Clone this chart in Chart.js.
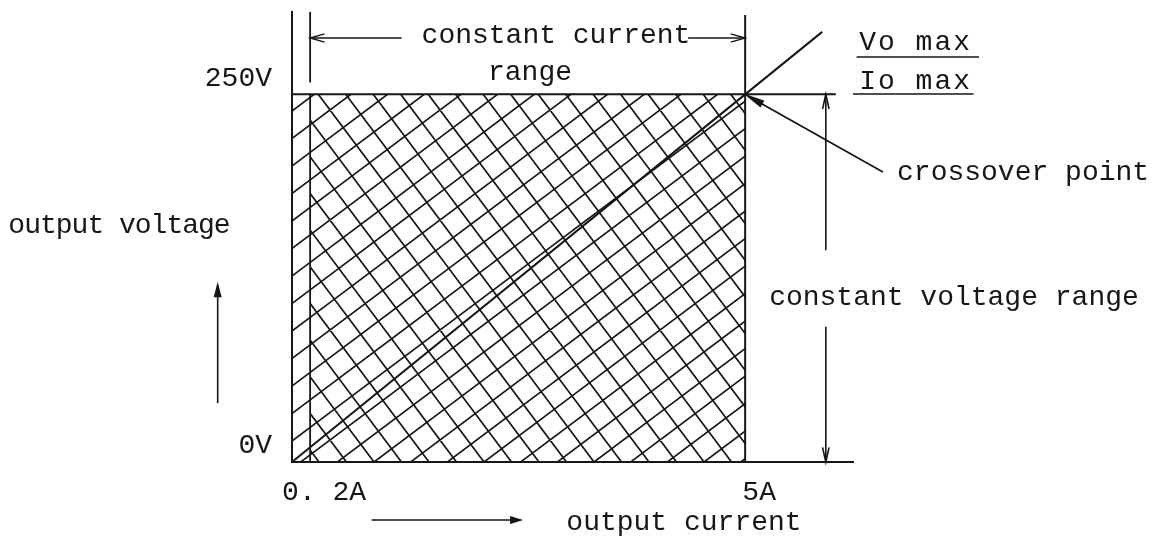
<!DOCTYPE html>
<html>
<head>
<meta charset="utf-8">
<script src="https://cdn.jsdelivr.net/npm/chart.js@4.4.1/dist/chart.umd.min.js"></script>
<style>
  html, body { margin: 0; padding: 0; background: #fff; }
</style>
</head>
<body>
<canvas id="chart" width="1161" height="541"></canvas>
<script>
// tick marks on the two axes
const currentTicks = [0.2, 5];
const currentLabels = ['0. 2A', '5A'];
const voltageTicks = [0, 250];
const voltageLabels = ['0V', '250V'];

// hatched operating area (A / V)
const stripCurrent = [0, 0.2];
const rangeCurrent = [0.2, 5];
const rangeVoltage = [250, 250];

// load line through the crossover point
const loadCurrent = [0, 5, 5.85];
const loadVoltage = [0, 250, 292.5];

// 250V limit line
const limitCurrent = [0, 6.0];
const limitVoltage = [250, 250];

// 0.2A and 5A verticals
const minLineCurrent = [0.2, 0.2, 0.2, 0.2, 0.2];
const minLineVoltage = [0, 250, null, 258, 306];
const maxLineCurrent = [5, 5];
const maxLineVoltage = [0, 304];

// dimension arrows
const ccLeftCurrent = [1.21, 0.2];
const ccRightCurrent = [4.37, 5];
const ccVoltage = [288.3, 288.3];
const cvCurrent = [5.89, 5.89];
const cvUpVoltage = [144, 250];
const cvDownVoltage = [92, 0];
const crossCurrent = [6.52, 5.03];
const crossVoltage = [197.2, 248.9];
const voltArrowCurrent = [-0.82, -0.82];
const voltArrowVoltage = [40, 120.4];
const currArrowCurrent = [0.88, 2.52];
const currArrowVoltage = [-39.4, -39.4];

// underlines for Vo max / Io max
const voUnderCurrent = [6.23, 7.58];
const voUnderVoltage = [275.4, 275.4];
const ioUnderCurrent = [6.19, 7.52];
const ioUnderVoltage = [250.2, 250.2];

const ink = '#161616';
const fontFamily = '"Liberation Mono", "DejaVu Sans Mono", monospace';

const zip = (xs, ys) => xs.map((x, i) => ({x: x, y: ys[i]}));

function hatch(both) {
  const d = 22, n = 5 * d;
  const c = document.createElement('canvas');
  c.width = n; c.height = n;
  const g = c.getContext('2d');
  g.strokeStyle = ink;
  g.lineWidth = 1.7;
  g.beginPath();
  for (let k = -2; k <= 9; k++) {
    const px = 0.6 * k * d, py = 0.8 * k * d;
    g.moveTo(px - 0.8 * 300, py + 0.6 * 300);
    g.lineTo(px + 0.8 * 300, py - 0.6 * 300);
  }
  if (both) {
    for (let k = -5; k <= 6; k++) {
      const px = 0.8 * k * d, py = -0.6 * k * d;
      g.moveTo(px - 0.6 * 300, py - 0.8 * 300);
      g.lineTo(px + 0.6 * 300, py + 0.8 * 300);
    }
  }
  g.stroke();
  return g.createPattern(c, 'repeat');
}

function line(points, extra) {
  return Object.assign({
    data: points, showLine: true, pointRadius: 0,
    borderColor: ink, borderWidth: 1.8, fill: false, clip: false
  }, extra || {});
}

// text notes, anchored in data units
const notes = [
  {text: 'constant current', x: 2.913, y: 284.9, align: 'center'},
  {text: 'range', x: 2.626, y: 259.8, align: 'center'},
  {text: 'Vo max', x: 7.503, y: 280.2, align: 'right', spacing: 2},
  {text: 'Io max', x: 7.503, y: 253.6, align: 'right', spacing: 2},
  {text: 'crossover point', x: 6.676, y: 191.8, align: 'left'},
  {text: 'constant voltage range', x: 7.304, y: 106.8, align: 'center'},
  {text: 'output voltage', x: -1.909, y: 155.7, align: 'center', spacing: -1},
  {text: 'output current', x: 4.325, y: -46.2, align: 'center'}
];

const notesPlugin = {
  id: 'notes',
  afterDraw(chart) {
    const ctx = chart.ctx, sx = chart.scales.x, sy = chart.scales.y;
    ctx.save();
    ctx.fillStyle = ink;
    ctx.font = '28px ' + fontFamily;
    ctx.textBaseline = 'alphabetic';
    notes.forEach(n => {
      ctx.textAlign = n.align;
      ctx.letterSpacing = (n.spacing || 0) + 'px';
      ctx.fillText(n.text, sx.getPixelForValue(n.x), sy.getPixelForValue(n.y));
    });
    ctx.restore();
  }
};

const arrowPlugin = {
  id: 'arrows',
  afterDatasetsDraw(chart) {
    const ctx = chart.ctx;
    chart.data.datasets.forEach((ds, i) => {
      if (!ds.head) return;
      const pts = chart.getDatasetMeta(i).data;
      const tip = pts[pts.length - 1], from = pts[pts.length - 2];
      const a = Math.atan2(tip.y - from.y, tip.x - from.x);
      const len = ds.headLength || 15, half = ds.headAngle || 0.28;
      ctx.save();
      ctx.strokeStyle = ink;
      ctx.fillStyle = ink;
      ctx.lineWidth = ds.borderWidth;
      ctx.beginPath();
      ctx.moveTo(tip.x - len * Math.cos(a - half), tip.y - len * Math.sin(a - half));
      ctx.lineTo(tip.x, tip.y);
      ctx.lineTo(tip.x - len * Math.cos(a + half), tip.y - len * Math.sin(a + half));
      if (ds.head === 'filled') { ctx.closePath(); ctx.fill(); }
      ctx.stroke();
      ctx.restore();
    });
  }
};

new Chart(document.getElementById('chart'), {
  type: 'scatter',
  data: {
    datasets: [
      line(zip(loadCurrent, loadVoltage), {borderWidth: 2}),
      line(zip(limitCurrent, limitVoltage), {borderWidth: 2}),
      line(zip(minLineCurrent, minLineVoltage)),
      line(zip(maxLineCurrent, maxLineVoltage), {borderWidth: 2}),
      line(zip(ccLeftCurrent, ccVoltage), {borderWidth: 1.4, head: 'open'}),
      line(zip(ccRightCurrent, ccVoltage), {borderWidth: 1.4, head: 'open'}),
      line(zip(cvCurrent, cvUpVoltage), {borderWidth: 1.6, head: 'open', headAngle: 0.22}),
      line(zip(cvCurrent, cvDownVoltage), {borderWidth: 1.6, head: 'open', headAngle: 0.22}),
      line(zip(crossCurrent, crossVoltage), {borderWidth: 1.8, head: 'filled', headAngle: 0.18, headLength: 16}),
      line(zip(voltArrowCurrent, voltArrowVoltage), {borderWidth: 1.6, head: 'filled', headAngle: 0.25, headLength: 12}),
      line(zip(currArrowCurrent, currArrowVoltage), {borderWidth: 1.6, head: 'filled', headAngle: 0.3, headLength: 10}),
      line(zip(voUnderCurrent, voUnderVoltage), {borderWidth: 1.6}),
      line(zip(ioUnderCurrent, ioUnderVoltage), {borderWidth: 1.6}),
      line(zip(rangeCurrent, rangeVoltage), {borderWidth: 0, fill: 'origin', backgroundColor: hatch(true)}),
      line(zip(stripCurrent, rangeVoltage), {borderWidth: 0, fill: 'origin', backgroundColor: hatch(false)})
    ]
  },
  options: {
    responsive: false,
    animation: false,
    devicePixelRatio: 1,
    layout: {padding: {left: 172, right: 308, top: 12, bottom: 39}},
    plugins: {legend: {display: false}, tooltip: {enabled: false}},
    scales: {
      x: {
        type: 'linear',
        bounds: 'data',
        afterDataLimits(s) { s.min = 0; s.max = 6.19; },
        afterBuildTicks(s) { s.ticks = currentTicks.map(v => ({value: v})); },
        afterFit(s) { s.height = 40; s.paddingLeft = 0; s.paddingRight = 0; },
        grid: {display: false, drawTicks: false},
        border: {display: true, color: ink, width: 2},
        ticks: {
          callback: (v, i) => currentLabels[i],
          autoSkip: false, maxRotation: 0,
          padding: 14, labelOffset: 14,
          color: ink, font: {family: fontFamily, size: 28}
        }
      },
      y: {
        type: 'linear',
        bounds: 'data',
        afterDataLimits(s) { s.min = 0; s.max = 306; },
        afterBuildTicks(s) { s.ticks = voltageTicks.map(v => ({value: v})); },
        afterFit(s) { s.width = 120; s.paddingTop = 0; s.paddingBottom = 0; },
        grid: {display: false, drawTicks: false},
        border: {display: true, color: ink, width: 2},
        ticks: {
          callback: (v, i) => voltageLabels[i],
          autoSkip: false,
          padding: 20, labelOffset: -16,
          color: ink, font: {family: fontFamily, size: 28}
        }
      }
    }
  },
  plugins: [notesPlugin, arrowPlugin]
});
</script>
</body>
</html>
